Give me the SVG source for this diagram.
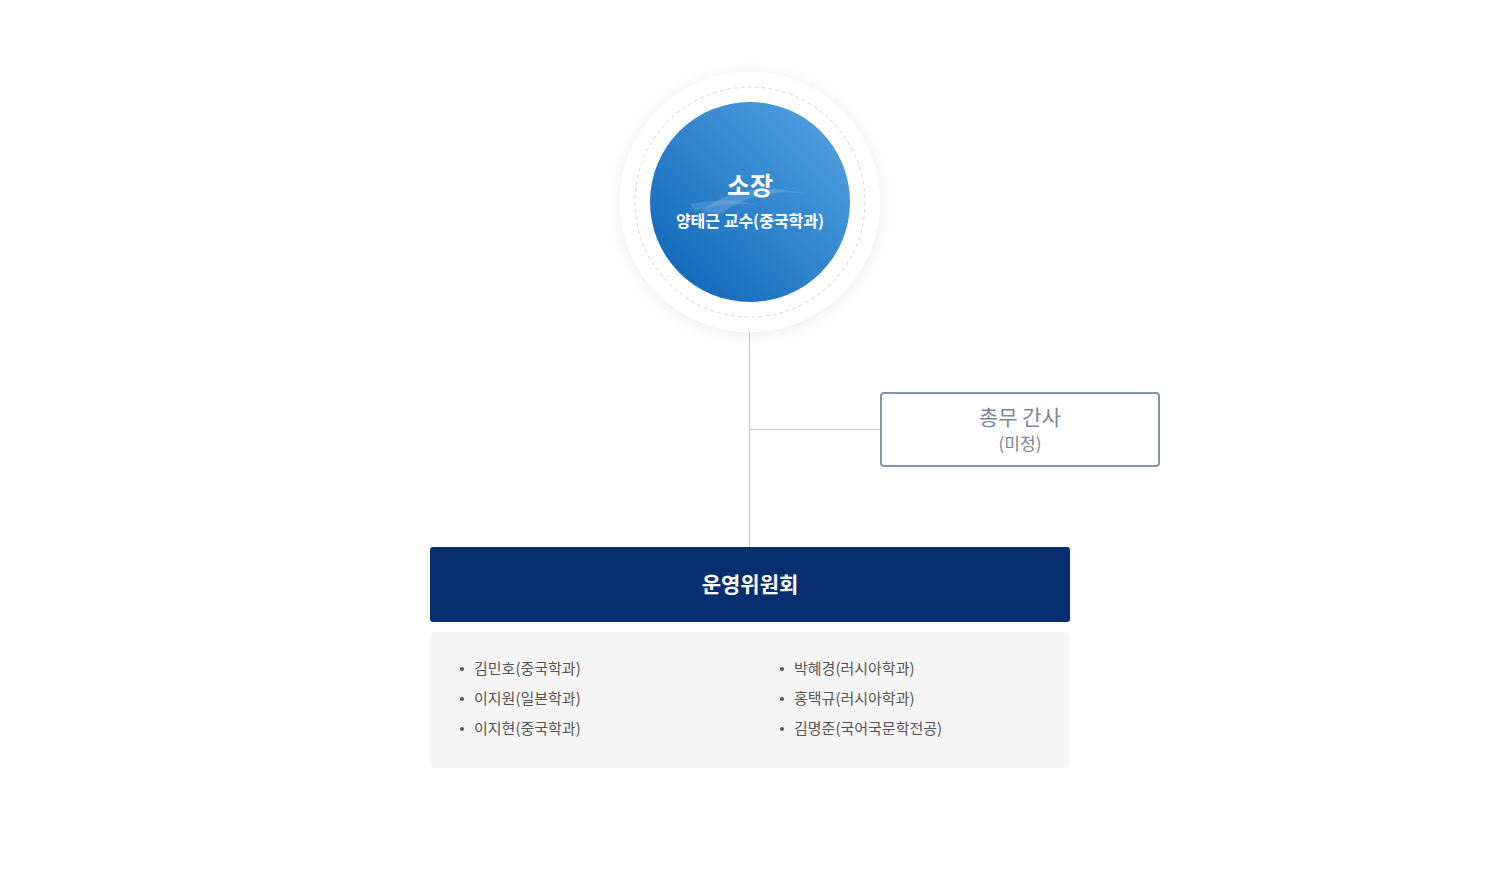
<svg xmlns="http://www.w3.org/2000/svg" width="1500" height="870" viewBox="0 0 1500 870">
<defs>
<linearGradient id="g" x1="0" y1="1" x2="1" y2="0"><stop offset="0" stop-color="#0b62b5"/><stop offset="1" stop-color="#56a6e4"/></linearGradient>
<filter id="sh" x="-30%" y="-30%" width="160%" height="160%"><feDropShadow dx="0" dy="2" stdDeviation="8" flood-color="#000" flood-opacity="0.08"/></filter>
<style>
text{font-family:"Noto Sans CJK KR","Noto Sans",sans-serif}
.m{font-size:15px;fill:#555}
.line{stroke:#c8c8c8;stroke-width:1;fill:none}
</style>
</defs>
<rect width="1500" height="870" fill="#fff"/>
<g id="connectors">
<line class="line" x1="749.5" y1="330" x2="749.5" y2="547"/>
<line class="line" x1="749.5" y1="429.5" x2="881" y2="429.5"/>
</g>
<g id="director">
<circle cx="750" cy="202" r="130" fill="#fff" filter="url(#sh)"/>
<circle cx="750" cy="202" r="115" fill="none" stroke="#d8d8d8" stroke-dasharray="4 3"/>
<circle cx="750" cy="202" r="100" fill="url(#g)"/>
<path d="M700 212 Q740 178 808 194 Q760 186 720 214 Z" fill="#fff" opacity="0.15"/>
<path d="M690 204 Q730 196 760 206 Q725 200 695 212 Z" fill="#fff" opacity="0.12"/>
<text x="750" y="195" text-anchor="middle" font-size="25" font-weight="bold" fill="#fff">소장</text>
<text x="750" y="227" text-anchor="middle" font-size="16" font-weight="bold" fill="#fff">양태근 교수(중국학과)</text>
</g>
<g id="secretary">
<rect x="881" y="393" width="278" height="73" rx="3" fill="#fff" stroke="#8593a6" stroke-width="2"/>
<text x="1020" y="425" text-anchor="middle" font-size="21" fill="#7a8698">총무 간사</text>
<text x="1020" y="450" text-anchor="middle" font-size="17" fill="#7a8698">(미정)</text>
</g>
<g id="committee">
<rect x="430" y="547" width="640" height="75" rx="3" fill="#072e6e"/>
<text x="750" y="592" text-anchor="middle" font-size="21" font-weight="bold" fill="#fff">운영위원회</text>
</g>
<g id="members">
<rect x="430" y="632" width="640" height="136" rx="4" fill="#f5f5f5"/>
<g fill="#555"><circle cx="462" cy="669" r="2"/><circle cx="462" cy="699" r="2"/><circle cx="462" cy="729" r="2"/><circle cx="782" cy="669" r="2"/><circle cx="782" cy="699" r="2"/><circle cx="782" cy="729" r="2"/></g>
<text class="m" x="474" y="674">김민호(중국학과)</text>
<text class="m" x="474" y="704">이지원(일본학과)</text>
<text class="m" x="474" y="734">이지현(중국학과)</text>
<text class="m" x="794" y="674">박혜경(러시아학과)</text>
<text class="m" x="794" y="704">홍택규(러시아학과)</text>
<text class="m" x="794" y="734">김명준(국어국문학전공)</text>
</g>
</svg>
